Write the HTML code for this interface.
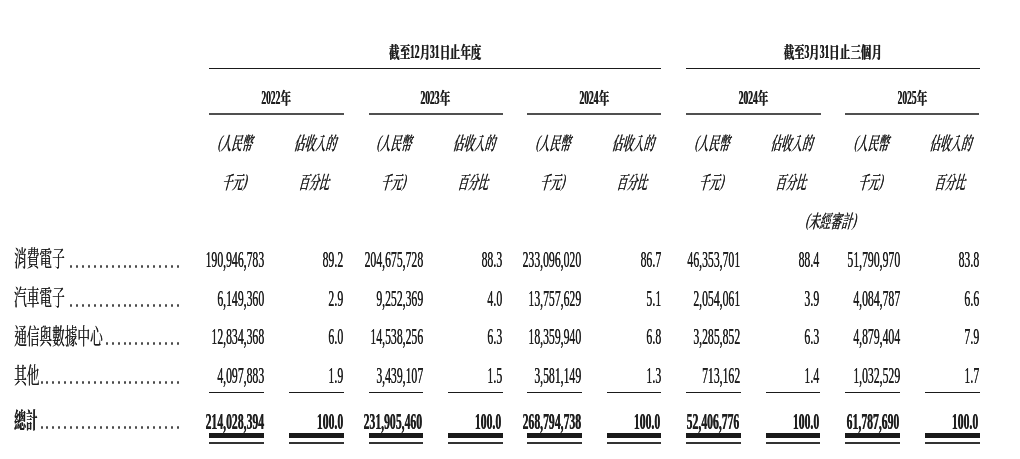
<!DOCTYPE html>
<html><head><meta charset="utf-8"><style>
html,body{margin:0;padding:0;background:#fff;overflow:hidden;}
body{width:1020px;height:459px;position:relative;overflow:hidden;color:#1e1e1e;filter:blur(0.35px);}
.t{position:absolute;white-space:nowrap;font-family:'Liberation Serif','Noto Serif CJK TC','Noto Serif CJK SC',serif;}
.c{display:inline-block;text-align:left;width:21.56px;font-size:16.4px;transform:scaleX(1.315);transform-origin:0 0;}
.p{position:relative;top:-2px;}
.d{position:absolute;display:block;width:2px;height:3px;border-radius:1px;background:#4a4a4a;}
.l{position:absolute;display:block;}
</style></head><body>
<div class="t" style="top:42.17px;font-size:19.5px;line-height:19.5px;font-weight:bold;text-shadow:0.8px 0 0 currentColor;left:135.30px;width:600.00px;text-align:center;transform-origin:50% 50%;transform:scaleX(0.487);"><span class="c">截</span><span class="c">至</span>12<span class="c">月</span>31<span class="c">日</span><span class="c">止</span><span class="c">年</span><span class="c">度</span></div>
<div class="t" style="top:42.17px;font-size:19.5px;line-height:19.5px;font-weight:bold;text-shadow:0.8px 0 0 currentColor;left:645.20px;width:374.80px;text-align:center;transform-origin:50% 50%;transform:scaleX(0.487);"><span class="c">截</span><span class="c">至</span>3<span class="c">月</span>31<span class="c">日</span><span class="c">止</span><span class="c">三</span><span class="c">個</span><span class="c">月</span></div>
<i class="l" style="left:209.3px;top:67.6px;width:452.2px;height:1.6px;background:#1a1a1a"></i>
<i class="l" style="left:686px;top:67.6px;width:293.5px;height:1.6px;background:#1a1a1a"></i>
<div class="t" style="top:87.67px;font-size:19.5px;line-height:19.5px;font-weight:bold;text-shadow:0.8px 0 0 currentColor;left:0.00px;width:551.90px;text-align:center;transform-origin:50% 50%;transform:scaleX(0.487);">2022<span class="c">年</span></div>
<i class="l" style="left:209.3px;top:113px;width:134.3px;height:2px;background:#505050"></i>
<div class="t" style="top:87.67px;font-size:19.5px;line-height:19.5px;font-weight:bold;text-shadow:0.8px 0 0 currentColor;left:135.05px;width:600.00px;text-align:center;transform-origin:50% 50%;transform:scaleX(0.487);">2023<span class="c">年</span></div>
<i class="l" style="left:368.5px;top:113px;width:134.1px;height:2px;background:#505050"></i>
<div class="t" style="top:87.67px;font-size:19.5px;line-height:19.5px;font-weight:bold;text-shadow:0.8px 0 0 currentColor;left:293.85px;width:600.00px;text-align:center;transform-origin:50% 50%;transform:scaleX(0.487);">2024<span class="c">年</span></div>
<i class="l" style="left:527.2px;top:113px;width:134.3px;height:2px;background:#505050"></i>
<div class="t" style="top:87.67px;font-size:19.5px;line-height:19.5px;font-weight:bold;text-shadow:0.8px 0 0 currentColor;left:485.50px;width:534.50px;text-align:center;transform-origin:50% 50%;transform:scaleX(0.487);">2024<span class="c">年</span></div>
<i class="l" style="left:686.0px;top:113px;width:134.5px;height:2px;background:#505050"></i>
<div class="t" style="top:87.67px;font-size:19.5px;line-height:19.5px;font-weight:bold;text-shadow:0.8px 0 0 currentColor;left:803.70px;width:216.30px;text-align:center;transform-origin:50% 50%;transform:scaleX(0.487);">2025<span class="c">年</span></div>
<i class="l" style="left:845.2px;top:113px;width:134.3px;height:2px;background:#505050"></i>
<div class="t" style="top:134.51px;font-size:18.5px;line-height:18.5px;font-weight:500;text-shadow:0.5px 0 0 currentColor;left:0.00px;width:471.70px;text-align:center;transform-origin:50% 50%;transform:skewX(-15deg) scaleX(0.565);"><span class="p">(</span>人民幣</div>
<div class="t" style="top:173.51px;font-size:18.5px;line-height:18.5px;font-weight:500;text-shadow:0.5px 0 0 currentColor;left:0.00px;width:469.90px;text-align:center;transform-origin:50% 50%;transform:skewX(-15deg) scaleX(0.563);">千元<span class="p">)</span></div>
<div class="t" style="top:134.51px;font-size:18.5px;line-height:18.5px;font-weight:500;text-shadow:0.5px 0 0 currentColor;left:15.60px;width:600.00px;text-align:center;transform-origin:50% 50%;transform:skewX(-15deg) scaleX(0.57);">佔收入的</div>
<div class="t" style="top:173.51px;font-size:18.5px;line-height:18.5px;font-weight:500;text-shadow:0.5px 0 0 currentColor;left:15.30px;width:600.00px;text-align:center;transform-origin:50% 50%;transform:skewX(-15deg) scaleX(0.551);">百分比</div>
<div class="t" style="top:134.51px;font-size:18.5px;line-height:18.5px;font-weight:500;text-shadow:0.5px 0 0 currentColor;left:94.95px;width:600.00px;text-align:center;transform-origin:50% 50%;transform:skewX(-15deg) scaleX(0.565);"><span class="p">(</span>人民幣</div>
<div class="t" style="top:173.51px;font-size:18.5px;line-height:18.5px;font-weight:500;text-shadow:0.5px 0 0 currentColor;left:94.05px;width:600.00px;text-align:center;transform-origin:50% 50%;transform:skewX(-15deg) scaleX(0.563);">千元<span class="p">)</span></div>
<div class="t" style="top:134.51px;font-size:18.5px;line-height:18.5px;font-weight:500;text-shadow:0.5px 0 0 currentColor;left:174.65px;width:600.00px;text-align:center;transform-origin:50% 50%;transform:skewX(-15deg) scaleX(0.57);">佔收入的</div>
<div class="t" style="top:173.51px;font-size:18.5px;line-height:18.5px;font-weight:500;text-shadow:0.5px 0 0 currentColor;left:174.35px;width:600.00px;text-align:center;transform-origin:50% 50%;transform:skewX(-15deg) scaleX(0.551);">百分比</div>
<div class="t" style="top:134.51px;font-size:18.5px;line-height:18.5px;font-weight:500;text-shadow:0.5px 0 0 currentColor;left:253.95px;width:600.00px;text-align:center;transform-origin:50% 50%;transform:skewX(-15deg) scaleX(0.565);"><span class="p">(</span>人民幣</div>
<div class="t" style="top:173.51px;font-size:18.5px;line-height:18.5px;font-weight:500;text-shadow:0.5px 0 0 currentColor;left:253.05px;width:600.00px;text-align:center;transform-origin:50% 50%;transform:skewX(-15deg) scaleX(0.563);">千元<span class="p">)</span></div>
<div class="t" style="top:134.51px;font-size:18.5px;line-height:18.5px;font-weight:500;text-shadow:0.5px 0 0 currentColor;left:333.50px;width:600.00px;text-align:center;transform-origin:50% 50%;transform:skewX(-15deg) scaleX(0.57);">佔收入的</div>
<div class="t" style="top:173.51px;font-size:18.5px;line-height:18.5px;font-weight:500;text-shadow:0.5px 0 0 currentColor;left:333.20px;width:600.00px;text-align:center;transform-origin:50% 50%;transform:skewX(-15deg) scaleX(0.551);">百分比</div>
<div class="t" style="top:134.51px;font-size:18.5px;line-height:18.5px;font-weight:500;text-shadow:0.5px 0 0 currentColor;left:412.70px;width:600.00px;text-align:center;transform-origin:50% 50%;transform:skewX(-15deg) scaleX(0.565);"><span class="p">(</span>人民幣</div>
<div class="t" style="top:173.51px;font-size:18.5px;line-height:18.5px;font-weight:500;text-shadow:0.5px 0 0 currentColor;left:411.80px;width:600.00px;text-align:center;transform-origin:50% 50%;transform:skewX(-15deg) scaleX(0.563);">千元<span class="p">)</span></div>
<div class="t" style="top:134.51px;font-size:18.5px;line-height:18.5px;font-weight:500;text-shadow:0.5px 0 0 currentColor;left:564.90px;width:455.10px;text-align:center;transform-origin:50% 50%;transform:skewX(-15deg) scaleX(0.57);">佔收入的</div>
<div class="t" style="top:173.51px;font-size:18.5px;line-height:18.5px;font-weight:500;text-shadow:0.5px 0 0 currentColor;left:564.30px;width:455.70px;text-align:center;transform-origin:50% 50%;transform:skewX(-15deg) scaleX(0.551);">百分比</div>
<div class="t" style="top:134.51px;font-size:18.5px;line-height:18.5px;font-weight:500;text-shadow:0.5px 0 0 currentColor;left:723.60px;width:296.40px;text-align:center;transform-origin:50% 50%;transform:skewX(-15deg) scaleX(0.565);"><span class="p">(</span>人民幣</div>
<div class="t" style="top:173.51px;font-size:18.5px;line-height:18.5px;font-weight:500;text-shadow:0.5px 0 0 currentColor;left:721.80px;width:298.20px;text-align:center;transform-origin:50% 50%;transform:skewX(-15deg) scaleX(0.563);">千元<span class="p">)</span></div>
<div class="t" style="top:134.51px;font-size:18.5px;line-height:18.5px;font-weight:500;text-shadow:0.5px 0 0 currentColor;left:882.80px;width:137.20px;text-align:center;transform-origin:50% 50%;transform:skewX(-15deg) scaleX(0.57);">佔收入的</div>
<div class="t" style="top:173.51px;font-size:18.5px;line-height:18.5px;font-weight:500;text-shadow:0.5px 0 0 currentColor;left:882.20px;width:137.80px;text-align:center;transform-origin:50% 50%;transform:skewX(-15deg) scaleX(0.551);">百分比</div>
<div class="t" style="top:212.51px;font-size:18.5px;line-height:18.5px;font-weight:500;text-shadow:0.5px 0 0 currentColor;left:643.20px;width:376.80px;text-align:center;transform-origin:50% 50%;transform:skewX(-15deg) scaleX(0.585);"><span class="p">(</span>未經審計<span class="p">)</span></div>
<div class="t" style="top:249.36px;font-size:21.3px;line-height:21.3px;text-shadow:0.3px 0 0 currentColor;left:14.00px;transform-origin:0 50%;transform:scaleX(0.595);">消費電子</div>
<div class="t" style="top:246.70px;font-size:24px;line-height:24px;text-shadow:0.5px 0 0 currentColor;right:756.00px;transform-origin:100% 50%;transform:scaleX(0.488);">190,946,783</div>
<div class="t" style="top:246.70px;font-size:24px;line-height:24px;text-shadow:0.5px 0 0 currentColor;right:676.80px;transform-origin:100% 50%;transform:scaleX(0.488);">89.2</div>
<div class="t" style="top:246.70px;font-size:24px;line-height:24px;text-shadow:0.5px 0 0 currentColor;right:597.10px;transform-origin:100% 50%;transform:scaleX(0.488);">204,675,728</div>
<div class="t" style="top:246.70px;font-size:24px;line-height:24px;text-shadow:0.5px 0 0 currentColor;right:518.00px;transform-origin:100% 50%;transform:scaleX(0.488);">88.3</div>
<div class="t" style="top:246.70px;font-size:24px;line-height:24px;text-shadow:0.5px 0 0 currentColor;right:438.70px;transform-origin:100% 50%;transform:scaleX(0.488);">233,096,020</div>
<div class="t" style="top:246.70px;font-size:24px;line-height:24px;text-shadow:0.5px 0 0 currentColor;right:359.20px;transform-origin:100% 50%;transform:scaleX(0.488);">86.7</div>
<div class="t" style="top:246.70px;font-size:24px;line-height:24px;text-shadow:0.5px 0 0 currentColor;right:280.10px;transform-origin:100% 50%;transform:scaleX(0.488);">46,353,701</div>
<div class="t" style="top:246.70px;font-size:24px;line-height:24px;text-shadow:0.5px 0 0 currentColor;right:200.60px;transform-origin:100% 50%;transform:scaleX(0.488);">88.4</div>
<div class="t" style="top:246.70px;font-size:24px;line-height:24px;text-shadow:0.5px 0 0 currentColor;right:120.10px;transform-origin:100% 50%;transform:scaleX(0.488);">51,790,970</div>
<div class="t" style="top:246.70px;font-size:24px;line-height:24px;text-shadow:0.5px 0 0 currentColor;right:41.00px;transform-origin:100% 50%;transform:scaleX(0.488);">83.8</div>
<div class="t" style="top:288.36px;font-size:21.3px;line-height:21.3px;text-shadow:0.3px 0 0 currentColor;left:14.00px;transform-origin:0 50%;transform:scaleX(0.595);">汽車電子</div>
<div class="t" style="top:285.70px;font-size:24px;line-height:24px;text-shadow:0.5px 0 0 currentColor;right:756.00px;transform-origin:100% 50%;transform:scaleX(0.488);">6,149,360</div>
<div class="t" style="top:285.70px;font-size:24px;line-height:24px;text-shadow:0.5px 0 0 currentColor;right:676.80px;transform-origin:100% 50%;transform:scaleX(0.488);">2.9</div>
<div class="t" style="top:285.70px;font-size:24px;line-height:24px;text-shadow:0.5px 0 0 currentColor;right:597.10px;transform-origin:100% 50%;transform:scaleX(0.488);">9,252,369</div>
<div class="t" style="top:285.70px;font-size:24px;line-height:24px;text-shadow:0.5px 0 0 currentColor;right:518.00px;transform-origin:100% 50%;transform:scaleX(0.488);">4.0</div>
<div class="t" style="top:285.70px;font-size:24px;line-height:24px;text-shadow:0.5px 0 0 currentColor;right:438.70px;transform-origin:100% 50%;transform:scaleX(0.488);">13,757,629</div>
<div class="t" style="top:285.70px;font-size:24px;line-height:24px;text-shadow:0.5px 0 0 currentColor;right:359.20px;transform-origin:100% 50%;transform:scaleX(0.488);">5.1</div>
<div class="t" style="top:285.70px;font-size:24px;line-height:24px;text-shadow:0.5px 0 0 currentColor;right:280.10px;transform-origin:100% 50%;transform:scaleX(0.488);">2,054,061</div>
<div class="t" style="top:285.70px;font-size:24px;line-height:24px;text-shadow:0.5px 0 0 currentColor;right:200.60px;transform-origin:100% 50%;transform:scaleX(0.488);">3.9</div>
<div class="t" style="top:285.70px;font-size:24px;line-height:24px;text-shadow:0.5px 0 0 currentColor;right:120.10px;transform-origin:100% 50%;transform:scaleX(0.488);">4,084,787</div>
<div class="t" style="top:285.70px;font-size:24px;line-height:24px;text-shadow:0.5px 0 0 currentColor;right:41.00px;transform-origin:100% 50%;transform:scaleX(0.488);">6.6</div>
<div class="t" style="top:326.86px;font-size:21.3px;line-height:21.3px;text-shadow:0.3px 0 0 currentColor;left:14.00px;transform-origin:0 50%;transform:scaleX(0.595);">通信與數據中心</div>
<div class="t" style="top:324.20px;font-size:24px;line-height:24px;text-shadow:0.5px 0 0 currentColor;right:756.00px;transform-origin:100% 50%;transform:scaleX(0.488);">12,834,368</div>
<div class="t" style="top:324.20px;font-size:24px;line-height:24px;text-shadow:0.5px 0 0 currentColor;right:676.80px;transform-origin:100% 50%;transform:scaleX(0.488);">6.0</div>
<div class="t" style="top:324.20px;font-size:24px;line-height:24px;text-shadow:0.5px 0 0 currentColor;right:597.10px;transform-origin:100% 50%;transform:scaleX(0.488);">14,538,256</div>
<div class="t" style="top:324.20px;font-size:24px;line-height:24px;text-shadow:0.5px 0 0 currentColor;right:518.00px;transform-origin:100% 50%;transform:scaleX(0.488);">6.3</div>
<div class="t" style="top:324.20px;font-size:24px;line-height:24px;text-shadow:0.5px 0 0 currentColor;right:438.70px;transform-origin:100% 50%;transform:scaleX(0.488);">18,359,940</div>
<div class="t" style="top:324.20px;font-size:24px;line-height:24px;text-shadow:0.5px 0 0 currentColor;right:359.20px;transform-origin:100% 50%;transform:scaleX(0.488);">6.8</div>
<div class="t" style="top:324.20px;font-size:24px;line-height:24px;text-shadow:0.5px 0 0 currentColor;right:280.10px;transform-origin:100% 50%;transform:scaleX(0.488);">3,285,852</div>
<div class="t" style="top:324.20px;font-size:24px;line-height:24px;text-shadow:0.5px 0 0 currentColor;right:200.60px;transform-origin:100% 50%;transform:scaleX(0.488);">6.3</div>
<div class="t" style="top:324.20px;font-size:24px;line-height:24px;text-shadow:0.5px 0 0 currentColor;right:120.10px;transform-origin:100% 50%;transform:scaleX(0.488);">4,879,404</div>
<div class="t" style="top:324.20px;font-size:24px;line-height:24px;text-shadow:0.5px 0 0 currentColor;right:41.00px;transform-origin:100% 50%;transform:scaleX(0.488);">7.9</div>
<div class="t" style="top:365.86px;font-size:21.3px;line-height:21.3px;text-shadow:0.3px 0 0 currentColor;left:14.00px;transform-origin:0 50%;transform:scaleX(0.595);">其他</div>
<div class="t" style="top:363.20px;font-size:24px;line-height:24px;text-shadow:0.5px 0 0 currentColor;right:756.00px;transform-origin:100% 50%;transform:scaleX(0.488);">4,097,883</div>
<div class="t" style="top:363.20px;font-size:24px;line-height:24px;text-shadow:0.5px 0 0 currentColor;right:676.80px;transform-origin:100% 50%;transform:scaleX(0.488);">1.9</div>
<div class="t" style="top:363.20px;font-size:24px;line-height:24px;text-shadow:0.5px 0 0 currentColor;right:597.10px;transform-origin:100% 50%;transform:scaleX(0.488);">3,439,107</div>
<div class="t" style="top:363.20px;font-size:24px;line-height:24px;text-shadow:0.5px 0 0 currentColor;right:518.00px;transform-origin:100% 50%;transform:scaleX(0.488);">1.5</div>
<div class="t" style="top:363.20px;font-size:24px;line-height:24px;text-shadow:0.5px 0 0 currentColor;right:438.70px;transform-origin:100% 50%;transform:scaleX(0.488);">3,581,149</div>
<div class="t" style="top:363.20px;font-size:24px;line-height:24px;text-shadow:0.5px 0 0 currentColor;right:359.20px;transform-origin:100% 50%;transform:scaleX(0.488);">1.3</div>
<div class="t" style="top:363.20px;font-size:24px;line-height:24px;text-shadow:0.5px 0 0 currentColor;right:280.10px;transform-origin:100% 50%;transform:scaleX(0.488);">713,162</div>
<div class="t" style="top:363.20px;font-size:24px;line-height:24px;text-shadow:0.5px 0 0 currentColor;right:200.60px;transform-origin:100% 50%;transform:scaleX(0.488);">1.4</div>
<div class="t" style="top:363.20px;font-size:24px;line-height:24px;text-shadow:0.5px 0 0 currentColor;right:120.10px;transform-origin:100% 50%;transform:scaleX(0.488);">1,032,529</div>
<div class="t" style="top:363.20px;font-size:24px;line-height:24px;text-shadow:0.5px 0 0 currentColor;right:41.00px;transform-origin:100% 50%;transform:scaleX(0.488);">1.7</div>
<div class="t" style="top:410.79px;font-size:21.5px;line-height:21.5px;font-weight:bold;text-shadow:0.5px 0 0 currentColor;left:14.00px;transform-origin:0 50%;transform:scaleX(0.545);">總計</div>
<div class="t" style="top:409.84px;font-size:23.6px;line-height:23.6px;font-weight:bold;text-shadow:0.6px 0 0 currentColor;right:756.50px;transform-origin:100% 50%;transform:scaleX(0.496);">214,028,394</div>
<div class="t" style="top:409.84px;font-size:23.6px;line-height:23.6px;font-weight:bold;text-shadow:0.6px 0 0 currentColor;right:677.30px;transform-origin:100% 50%;transform:scaleX(0.496);">100.0</div>
<div class="t" style="top:409.84px;font-size:23.6px;line-height:23.6px;font-weight:bold;text-shadow:0.6px 0 0 currentColor;right:597.60px;transform-origin:100% 50%;transform:scaleX(0.496);">231,905,460</div>
<div class="t" style="top:409.84px;font-size:23.6px;line-height:23.6px;font-weight:bold;text-shadow:0.6px 0 0 currentColor;right:518.50px;transform-origin:100% 50%;transform:scaleX(0.496);">100.0</div>
<div class="t" style="top:409.84px;font-size:23.6px;line-height:23.6px;font-weight:bold;text-shadow:0.6px 0 0 currentColor;right:439.20px;transform-origin:100% 50%;transform:scaleX(0.496);">268,794,738</div>
<div class="t" style="top:409.84px;font-size:23.6px;line-height:23.6px;font-weight:bold;text-shadow:0.6px 0 0 currentColor;right:359.70px;transform-origin:100% 50%;transform:scaleX(0.496);">100.0</div>
<div class="t" style="top:409.84px;font-size:23.6px;line-height:23.6px;font-weight:bold;text-shadow:0.6px 0 0 currentColor;right:280.60px;transform-origin:100% 50%;transform:scaleX(0.496);">52,406,776</div>
<div class="t" style="top:409.84px;font-size:23.6px;line-height:23.6px;font-weight:bold;text-shadow:0.6px 0 0 currentColor;right:201.10px;transform-origin:100% 50%;transform:scaleX(0.496);">100.0</div>
<div class="t" style="top:409.84px;font-size:23.6px;line-height:23.6px;font-weight:bold;text-shadow:0.6px 0 0 currentColor;right:120.60px;transform-origin:100% 50%;transform:scaleX(0.496);">61,787,690</div>
<div class="t" style="top:409.84px;font-size:23.6px;line-height:23.6px;font-weight:bold;text-shadow:0.6px 0 0 currentColor;right:41.50px;transform-origin:100% 50%;transform:scaleX(0.496);">100.0</div>
<i class="d" style="left:177px;top:265px"></i>
<i class="d" style="left:171px;top:265px"></i>
<i class="d" style="left:165px;top:265px"></i>
<i class="d" style="left:159px;top:265px"></i>
<i class="d" style="left:153px;top:265px"></i>
<i class="d" style="left:147px;top:265px"></i>
<i class="d" style="left:141px;top:265px"></i>
<i class="d" style="left:135px;top:265px"></i>
<i class="d" style="left:129px;top:265px"></i>
<i class="d" style="left:124px;top:265px"></i>
<i class="d" style="left:118px;top:265px"></i>
<i class="d" style="left:112px;top:265px"></i>
<i class="d" style="left:106px;top:265px"></i>
<i class="d" style="left:100px;top:265px"></i>
<i class="d" style="left:94px;top:265px"></i>
<i class="d" style="left:88px;top:265px"></i>
<i class="d" style="left:82px;top:265px"></i>
<i class="d" style="left:76px;top:265px"></i>
<i class="d" style="left:70px;top:265px"></i>
<i class="d" style="left:177px;top:304px"></i>
<i class="d" style="left:171px;top:304px"></i>
<i class="d" style="left:165px;top:304px"></i>
<i class="d" style="left:159px;top:304px"></i>
<i class="d" style="left:153px;top:304px"></i>
<i class="d" style="left:147px;top:304px"></i>
<i class="d" style="left:141px;top:304px"></i>
<i class="d" style="left:135px;top:304px"></i>
<i class="d" style="left:129px;top:304px"></i>
<i class="d" style="left:124px;top:304px"></i>
<i class="d" style="left:118px;top:304px"></i>
<i class="d" style="left:112px;top:304px"></i>
<i class="d" style="left:106px;top:304px"></i>
<i class="d" style="left:100px;top:304px"></i>
<i class="d" style="left:94px;top:304px"></i>
<i class="d" style="left:88px;top:304px"></i>
<i class="d" style="left:82px;top:304px"></i>
<i class="d" style="left:76px;top:304px"></i>
<i class="d" style="left:70px;top:304px"></i>
<i class="d" style="left:177px;top:342px"></i>
<i class="d" style="left:171px;top:342px"></i>
<i class="d" style="left:165px;top:342px"></i>
<i class="d" style="left:159px;top:342px"></i>
<i class="d" style="left:153px;top:342px"></i>
<i class="d" style="left:147px;top:342px"></i>
<i class="d" style="left:141px;top:342px"></i>
<i class="d" style="left:135px;top:342px"></i>
<i class="d" style="left:129px;top:342px"></i>
<i class="d" style="left:124px;top:342px"></i>
<i class="d" style="left:118px;top:342px"></i>
<i class="d" style="left:112px;top:342px"></i>
<i class="d" style="left:106px;top:342px"></i>
<i class="d" style="left:177px;top:381px"></i>
<i class="d" style="left:171px;top:381px"></i>
<i class="d" style="left:165px;top:381px"></i>
<i class="d" style="left:159px;top:381px"></i>
<i class="d" style="left:153px;top:381px"></i>
<i class="d" style="left:147px;top:381px"></i>
<i class="d" style="left:141px;top:381px"></i>
<i class="d" style="left:135px;top:381px"></i>
<i class="d" style="left:129px;top:381px"></i>
<i class="d" style="left:124px;top:381px"></i>
<i class="d" style="left:118px;top:381px"></i>
<i class="d" style="left:112px;top:381px"></i>
<i class="d" style="left:106px;top:381px"></i>
<i class="d" style="left:100px;top:381px"></i>
<i class="d" style="left:94px;top:381px"></i>
<i class="d" style="left:88px;top:381px"></i>
<i class="d" style="left:82px;top:381px"></i>
<i class="d" style="left:76px;top:381px"></i>
<i class="d" style="left:70px;top:381px"></i>
<i class="d" style="left:64px;top:381px"></i>
<i class="d" style="left:58px;top:381px"></i>
<i class="d" style="left:52px;top:381px"></i>
<i class="d" style="left:46px;top:381px"></i>
<i class="d" style="left:41px;top:381px"></i>
<i class="d" style="left:177px;top:426px"></i>
<i class="d" style="left:171px;top:426px"></i>
<i class="d" style="left:165px;top:426px"></i>
<i class="d" style="left:159px;top:426px"></i>
<i class="d" style="left:153px;top:426px"></i>
<i class="d" style="left:147px;top:426px"></i>
<i class="d" style="left:141px;top:426px"></i>
<i class="d" style="left:135px;top:426px"></i>
<i class="d" style="left:129px;top:426px"></i>
<i class="d" style="left:124px;top:426px"></i>
<i class="d" style="left:118px;top:426px"></i>
<i class="d" style="left:112px;top:426px"></i>
<i class="d" style="left:106px;top:426px"></i>
<i class="d" style="left:100px;top:426px"></i>
<i class="d" style="left:94px;top:426px"></i>
<i class="d" style="left:88px;top:426px"></i>
<i class="d" style="left:82px;top:426px"></i>
<i class="d" style="left:76px;top:426px"></i>
<i class="d" style="left:70px;top:426px"></i>
<i class="d" style="left:64px;top:426px"></i>
<i class="d" style="left:58px;top:426px"></i>
<i class="d" style="left:52px;top:426px"></i>
<i class="d" style="left:46px;top:426px"></i>
<i class="d" style="left:41px;top:426px"></i>
<i class="l" style="left:209.3px;top:391.5px;width:54.9px;height:1.5px;background:#1a1a1a"></i>
<i class="l" style="left:209.3px;top:433.3px;width:54.9px;height:4.4px;background:#1a1a1a"></i>
<i class="l" style="left:209.3px;top:442px;width:54.9px;height:1.8px;background:#333"></i>
<i class="l" style="left:288.8px;top:391.5px;width:54.8px;height:1.5px;background:#1a1a1a"></i>
<i class="l" style="left:288.8px;top:433.3px;width:54.8px;height:4.4px;background:#1a1a1a"></i>
<i class="l" style="left:288.8px;top:442px;width:54.8px;height:1.8px;background:#333"></i>
<i class="l" style="left:368.5px;top:391.5px;width:54.7px;height:1.5px;background:#1a1a1a"></i>
<i class="l" style="left:368.5px;top:433.3px;width:54.7px;height:4.4px;background:#1a1a1a"></i>
<i class="l" style="left:368.5px;top:442px;width:54.7px;height:1.8px;background:#333"></i>
<i class="l" style="left:447.9px;top:391.5px;width:54.7px;height:1.5px;background:#1a1a1a"></i>
<i class="l" style="left:447.9px;top:433.3px;width:54.7px;height:4.4px;background:#1a1a1a"></i>
<i class="l" style="left:447.9px;top:442px;width:54.7px;height:1.8px;background:#333"></i>
<i class="l" style="left:527.2px;top:391.5px;width:55.3px;height:1.5px;background:#1a1a1a"></i>
<i class="l" style="left:527.2px;top:433.3px;width:55.3px;height:4.4px;background:#1a1a1a"></i>
<i class="l" style="left:527.2px;top:442px;width:55.3px;height:1.8px;background:#333"></i>
<i class="l" style="left:606.7px;top:391.5px;width:54.8px;height:1.5px;background:#1a1a1a"></i>
<i class="l" style="left:606.7px;top:433.3px;width:54.8px;height:4.4px;background:#1a1a1a"></i>
<i class="l" style="left:606.7px;top:442px;width:54.8px;height:1.8px;background:#333"></i>
<i class="l" style="left:686.0px;top:391.5px;width:55.2px;height:1.5px;background:#1a1a1a"></i>
<i class="l" style="left:686.0px;top:433.3px;width:55.2px;height:4.4px;background:#1a1a1a"></i>
<i class="l" style="left:686.0px;top:442px;width:55.2px;height:1.8px;background:#333"></i>
<i class="l" style="left:765.6px;top:391.5px;width:54.9px;height:1.5px;background:#1a1a1a"></i>
<i class="l" style="left:765.6px;top:433.3px;width:54.9px;height:4.4px;background:#1a1a1a"></i>
<i class="l" style="left:765.6px;top:442px;width:54.9px;height:1.8px;background:#333"></i>
<i class="l" style="left:845.2px;top:391.5px;width:55.0px;height:1.5px;background:#1a1a1a"></i>
<i class="l" style="left:845.2px;top:433.3px;width:55.0px;height:4.4px;background:#1a1a1a"></i>
<i class="l" style="left:845.2px;top:442px;width:55.0px;height:1.8px;background:#333"></i>
<i class="l" style="left:924.5px;top:391.5px;width:55.0px;height:1.5px;background:#1a1a1a"></i>
<i class="l" style="left:924.5px;top:433.3px;width:55.0px;height:4.4px;background:#1a1a1a"></i>
<i class="l" style="left:924.5px;top:442px;width:55.0px;height:1.8px;background:#333"></i>
</body></html>
